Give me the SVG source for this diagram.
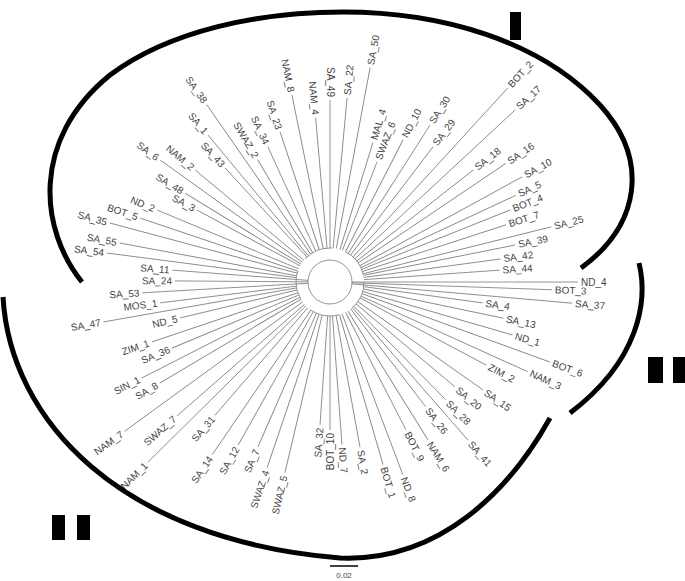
<svg xmlns="http://www.w3.org/2000/svg" width="685" height="581" viewBox="0 0 685 581">
<style>
.l{stroke:#888;stroke-width:0.9;fill:none}
.t{font-family:"Liberation Sans",Arial,sans-serif;font-size:10px;fill:#444}
.k{stroke:#000;stroke-width:5;fill:none}
</style>
<rect width="685" height="581" fill="#fff"/>
<g id="connectors">
<circle cx="330" cy="282" r="22" class="l"/>
<circle cx="330" cy="282" r="34" class="l" stroke-dasharray="30 14"/>
</g>
<g id="leaves" class="t" transform="translate(330 282)">
<g transform="rotate(0)"><line class="l" x1="22" x2="248"/><text x="251" dy="0.35em">ND_4</text></g>
<g transform="rotate(2)"><line class="l" x1="22" x2="222"/><text x="225" dy="0.35em">BOT_3</text></g>
<g transform="rotate(5)"><line class="l" x1="22" x2="243"/><text x="246" dy="0.35em">SA_37</text></g>
<g transform="rotate(7.8)"><line class="l" x1="34" x2="154"/><text x="157" dy="0.35em">SA_4</text></g>
<g transform="rotate(11.8)"><line class="l" x1="34" x2="177"/><text x="180" dy="0.35em">SA_13</text></g>
<g transform="rotate(16.2)"><line class="l" x1="34" x2="190"/><text x="193" dy="0.35em">ND_1</text></g>
<g transform="rotate(20)"><line class="l" x1="34" x2="234"/><text x="237" dy="0.35em">BOT_6</text></g>
<g transform="rotate(24.4)"><line class="l" x1="34" x2="217"/><text x="220" dy="0.35em">NAM_3</text></g>
<g transform="rotate(28)"><line class="l" x1="34" x2="177"/><text x="180" dy="0.35em">ZIM_2</text></g>
<g transform="rotate(35.2)"><line class="l" x1="34" x2="187"/><text x="190" dy="0.35em">SA_15</text></g>
<g transform="rotate(40)"><line class="l" x1="34" x2="163"/><text x="166" dy="0.35em">SA_20</text></g>
<g transform="rotate(45.5)"><line class="l" x1="34" x2="165"/><text x="168" dy="0.35em">SA_28</text></g>
<g transform="rotate(48.9)"><line class="l" x1="34" x2="210"/><text x="213" dy="0.35em">SA_41</text></g>
<g transform="rotate(52.5)"><line class="l" x1="34" x2="157"/><text x="160" dy="0.35em">SA_26</text></g>
<g transform="rotate(58.2)"><line class="l" x1="34" x2="186"/><text x="189" dy="0.35em">NAM_6</text></g>
<g transform="rotate(62.8)"><line class="l" x1="34" x2="166"/><text x="169" dy="0.35em">BOT_9</text></g>
<g transform="rotate(69.3)"><line class="l" x1="34" x2="206"/><text x="209" dy="0.35em">ND_8</text></g>
<g transform="rotate(73.8)"><line class="l" x1="34" x2="190"/><text x="193" dy="0.35em">BOT_1</text></g>
<g transform="rotate(79.7)"><line class="l" x1="34" x2="168"/><text x="171" dy="0.35em">SA_2</text></g>
<g transform="rotate(85.8)"><line class="l" x1="34" x2="163"/><text x="166" dy="0.35em">ND_7</text></g>
<g transform="rotate(90)"><line class="l" x1="34" x2="148"/><text x="151" dy="0.35em" text-anchor="end" transform="rotate(180 151 0)">BOT_10</text></g>
<g transform="rotate(94)"><line class="l" x1="34" x2="143"/><text x="146" dy="0.35em" text-anchor="end" transform="rotate(180 146 0)">SA_32</text></g>
<g transform="rotate(103.3)"><line class="l" x1="34" x2="196"/><text x="199" dy="0.35em" text-anchor="end" transform="rotate(180 199 0)">SWAZ_5</text></g>
<g transform="rotate(108.7)"><line class="l" x1="34" x2="196"/><text x="199" dy="0.35em" text-anchor="end" transform="rotate(180 199 0)">SWAZ_4</text></g>
<g transform="rotate(113.6)"><line class="l" x1="34" x2="180"/><text x="183" dy="0.35em" text-anchor="end" transform="rotate(180 183 0)">SA_7</text></g>
<g transform="rotate(119.4)"><line class="l" x1="34" x2="187"/><text x="190" dy="0.35em" text-anchor="end" transform="rotate(180 190 0)">SA_12</text></g>
<g transform="rotate(124.3)"><line class="l" x1="34" x2="209"/><text x="212" dy="0.35em" text-anchor="end" transform="rotate(180 212 0)">SA_14</text></g>
<g transform="rotate(130.8)"><line class="l" x1="34" x2="176"/><text x="179" dy="0.35em" text-anchor="end" transform="rotate(180 179 0)">SA_31</text></g>
<g transform="rotate(135.3)"><line class="l" x1="34" x2="256"/><text x="259" dy="0.35em" text-anchor="end" transform="rotate(180 259 0)">NAM_1</text></g>
<g transform="rotate(138.8)"><line class="l" x1="34" x2="203"/><text x="206" dy="0.35em" text-anchor="end" transform="rotate(180 206 0)">SWAZ_7</text></g>
<g transform="rotate(144)"><line class="l" x1="34" x2="254"/><text x="257" dy="0.35em" text-anchor="end" transform="rotate(180 257 0)">NAM_7</text></g>
<g transform="rotate(149.3)"><line class="l" x1="34" x2="198"/><text x="201" dy="0.35em" text-anchor="end" transform="rotate(180 201 0)">SA_8</text></g>
<g transform="rotate(153)"><line class="l" x1="34" x2="211"/><text x="214" dy="0.35em" text-anchor="end" transform="rotate(180 214 0)">SIN_1</text></g>
<g transform="rotate(157.3)"><line class="l" x1="34" x2="171"/><text x="174" dy="0.35em" text-anchor="end" transform="rotate(180 174 0)">SA_36</text></g>
<g transform="rotate(161.4)"><line class="l" x1="34" x2="188"/><text x="191" dy="0.35em" text-anchor="end" transform="rotate(180 191 0)">ZIM_1</text></g>
<g transform="rotate(166.5)"><line class="l" x1="34" x2="154"/><text x="157" dy="0.35em" text-anchor="end" transform="rotate(180 157 0)">ND_5</text></g>
<g transform="rotate(170)"><line class="l" x1="34" x2="230"/><text x="233" dy="0.35em" text-anchor="end" transform="rotate(180 233 0)">SA_47</text></g>
<g transform="rotate(173)"><line class="l" x1="34" x2="171"/><text x="174" dy="0.35em" text-anchor="end" transform="rotate(180 174 0)">MOS_1</text></g>
<g transform="rotate(176.7)"><line class="l" x1="22" x2="188"/><text x="191" dy="0.35em" text-anchor="end" transform="rotate(180 191 0)">SA_53</text></g>
<g transform="rotate(180.4)"><line class="l" x1="22" x2="155"/><text x="158" dy="0.35em" text-anchor="end" transform="rotate(180 158 0)">SA_24</text></g>
<g transform="rotate(184.3)"><line class="l" x1="22" x2="158"/><text x="161" dy="0.35em" text-anchor="end" transform="rotate(180 161 0)">SA_11</text></g>
<g transform="rotate(187.4)"><line class="l" x1="34" x2="225"/><text x="228" dy="0.35em" text-anchor="end" transform="rotate(180 228 0)">SA_54</text></g>
<g transform="rotate(190.5)"><line class="l" x1="34" x2="214"/><text x="217" dy="0.35em" text-anchor="end" transform="rotate(180 217 0)">SA_55</text></g>
<g transform="rotate(195)"><line class="l" x1="34" x2="228"/><text x="231" dy="0.35em" text-anchor="end" transform="rotate(180 231 0)">SA_35</text></g>
<g transform="rotate(198.6)"><line class="l" x1="34" x2="200"/><text x="203" dy="0.35em" text-anchor="end" transform="rotate(180 203 0)">BOT_5</text></g>
<g transform="rotate(202.6)"><line class="l" x1="34" x2="187"/><text x="190" dy="0.35em" text-anchor="end" transform="rotate(180 190 0)">ND_2</text></g>
<g transform="rotate(208.4)"><line class="l" x1="34" x2="151"/><text x="154" dy="0.35em" text-anchor="end" transform="rotate(180 154 0)">SA_3</text></g>
<g transform="rotate(211.5)"><line class="l" x1="34" x2="170"/><text x="173" dy="0.35em" text-anchor="end" transform="rotate(180 173 0)">SA_48</text></g>
<g transform="rotate(215.7)"><line class="l" x1="34" x2="209"/><text x="212" dy="0.35em" text-anchor="end" transform="rotate(180 212 0)">SA_6</text></g>
<g transform="rotate(219.7)"><line class="l" x1="34" x2="175"/><text x="178" dy="0.35em" text-anchor="end" transform="rotate(180 178 0)">NAM_2</text></g>
<g transform="rotate(227.4)"><line class="l" x1="34" x2="155"/><text x="158" dy="0.35em" text-anchor="end" transform="rotate(180 158 0)">SA_43</text></g>
<g transform="rotate(230.3)"><line class="l" x1="34" x2="191"/><text x="194" dy="0.35em" text-anchor="end" transform="rotate(180 194 0)">SA_1</text></g>
<g transform="rotate(235.2)"><line class="l" x1="34" x2="216"/><text x="219" dy="0.35em" text-anchor="end" transform="rotate(180 219 0)">SA_38</text></g>
<g transform="rotate(239.4)"><line class="l" x1="34" x2="142"/><text x="145" dy="0.35em" text-anchor="end" transform="rotate(180 145 0)">SWAZ_2</text></g>
<g transform="rotate(245.3)"><line class="l" x1="34" x2="149"/><text x="152" dy="0.35em" text-anchor="end" transform="rotate(180 152 0)">SA_34</text></g>
<g transform="rotate(251.6)"><line class="l" x1="34" x2="158"/><text x="161" dy="0.35em" text-anchor="end" transform="rotate(180 161 0)">SA_23</text></g>
<g transform="rotate(258.5)"><line class="l" x1="34" x2="191"/><text x="194" dy="0.35em" text-anchor="end" transform="rotate(180 194 0)">NAM_8</text></g>
<g transform="rotate(265)"><line class="l" x1="34" x2="165"/><text x="168" dy="0.35em" text-anchor="end" transform="rotate(180 168 0)">NAM_4</text></g>
<g transform="rotate(270)"><line class="l" x1="34" x2="182"/><text x="185" dy="0.35em" text-anchor="end" transform="rotate(180 185 0)">SA_49</text></g>
<g transform="rotate(-84.7)"><line class="l" x1="34" x2="185"/><text x="188" dy="0.35em">SA_22</text></g>
<g transform="rotate(-79.4)"><line class="l" x1="34" x2="218"/><text x="221" dy="0.35em">SA_50</text></g>
<g transform="rotate(-72.9)"><line class="l" x1="34" x2="146"/><text x="149" dy="0.35em">MAL_4</text></g>
<g transform="rotate(-68.6)"><line class="l" x1="34" x2="129"/><text x="132" dy="0.35em">SWAZ_6</text></g>
<g transform="rotate(-62.8)"><line class="l" x1="34" x2="160"/><text x="163" dy="0.35em">ND_10</text></g>
<g transform="rotate(-57.5)"><line class="l" x1="34" x2="186"/><text x="189" dy="0.35em">SA_30</text></g>
<g transform="rotate(-52.7)"><line class="l" x1="34" x2="170"/><text x="173" dy="0.35em">SA_29</text></g>
<g transform="rotate(-47.5)"><line class="l" x1="34" x2="263"/><text x="266" dy="0.35em">BOT_2</text></g>
<g transform="rotate(-42.9)"><line class="l" x1="34" x2="253"/><text x="256" dy="0.35em">SA_17</text></g>
<g transform="rotate(-38)"><line class="l" x1="34" x2="182"/><text x="185" dy="0.35em">SA_18</text></g>
<g transform="rotate(-34)"><line class="l" x1="34" x2="212"/><text x="215" dy="0.35em">SA_16</text></g>
<g transform="rotate(-28.7)"><line class="l" x1="34" x2="219"/><text x="222" dy="0.35em">SA_10</text></g>
<g transform="rotate(-25)"><line class="l" x1="34" x2="205"/><text x="208" dy="0.35em">SA_5</text></g>
<g transform="rotate(-21.8)"><line class="l" x1="34" x2="194"/><text x="197" dy="0.35em">BOT_4</text></g>
<g transform="rotate(-18)"><line class="l" x1="34" x2="185"/><text x="188" dy="0.35em">BOT_7</text></g>
<g transform="rotate(-14)"><line class="l" x1="34" x2="228"/><text x="231" dy="0.35em">SA_25</text></g>
<g transform="rotate(-11.3)"><line class="l" x1="34" x2="189"/><text x="192" dy="0.35em">SA_39</text></g>
<g transform="rotate(-7.7)"><line class="l" x1="34" x2="172"/><text x="175" dy="0.35em">SA_42</text></g>
<g transform="rotate(-4)"><line class="l" x1="34" x2="170"/><text x="173" dy="0.35em">SA_44</text></g>
</g>
<g id="groups">
<path class="k" d="M82,282 C40,230 30,140 110,75 C170,30 260,12 343,12 C440,12 540,40 600,105 C650,160 640,225 581,268"/>
<path class="k" d="M3,297 C10,420 120,540 340,558 C440,562 510,490 550,418"/>
<path class="k" d="M639,263 C648,300 640,360 570,413"/>
<rect x="510" y="12" width="11" height="28"/>
<rect x="648" y="357" width="15" height="26"/>
<rect x="673" y="357" width="12" height="26"/>
<rect x="52" y="515" width="13" height="25"/>
<rect x="77" y="515" width="13" height="25"/>
</g>
<g id="scale">
<line x1="330" y1="566" x2="358" y2="566" stroke="#000" stroke-width="1.5"/>
<text x="344" y="578" text-anchor="middle" style="font-family:'Liberation Sans',Arial,sans-serif;font-size:8px;fill:#444">0.02</text>
</g>
</svg>
